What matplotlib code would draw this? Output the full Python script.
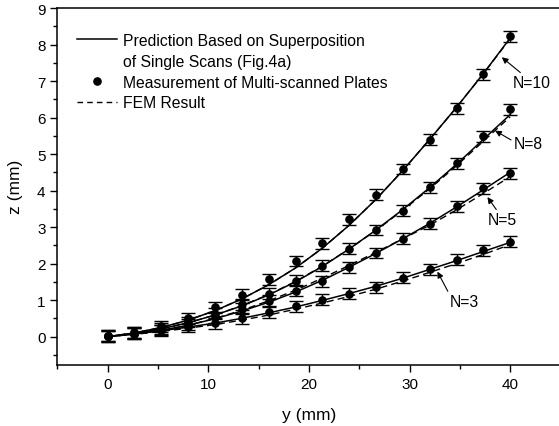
import matplotlib
matplotlib.use("Agg")
import matplotlib.pyplot as plt
from matplotlib.ticker import MultipleLocator
from matplotlib.lines import Line2D

plt.rcParams['font.family'] = ['Liberation Sans', 'DejaVu Sans']

# positions along the plate (mm)
y_pos = [0, 2.67, 5.33, 8.0, 10.67, 13.33, 16.0, 18.67, 21.33, 24.0, 26.67, 29.33, 32.0, 34.67, 37.33, 40.0]

# measurements (mm)
meas_n10 = [0.02, 0.12, 0.28, 0.50, 0.80, 1.14, 1.57, 2.07, 2.56, 3.21, 3.88, 4.59, 5.39, 6.25, 7.19, 8.23]
meas_n8 = [0.02, 0.10, 0.22, 0.40, 0.62, 0.88, 1.18, 1.53, 1.94, 2.40, 2.92, 3.45, 4.09, 4.75, 5.49, 6.23]
meas_n5 = [0.01, 0.08, 0.18, 0.33, 0.53, 0.76, 0.98, 1.26, 1.52, 1.90, 2.29, 2.68, 3.09, 3.57, 4.06, 4.47]
meas_n3 = [0.01, 0.08, 0.17, 0.27, 0.37, 0.50, 0.67, 0.83, 1.01, 1.17, 1.35, 1.61, 1.85, 2.10, 2.36, 2.60]
meas_err = 0.15

# prediction based on superposition (mm)
pred_n10 = [0.00, 0.10, 0.25, 0.45, 0.71, 1.03, 1.42, 1.88, 2.42, 3.05, 3.76, 4.55, 5.40, 6.28, 7.20, 8.18]
pred_n8 = [0.00, 0.09, 0.21, 0.38, 0.59, 0.84, 1.14, 1.50, 1.92, 2.40, 2.92, 3.48, 4.08, 4.72, 5.40, 6.08]
pred_n5 = [0.00, 0.07, 0.17, 0.31, 0.49, 0.70, 0.94, 1.22, 1.54, 1.90, 2.28, 2.68, 3.10, 3.55, 4.02, 4.50]
pred_n3 = [0.00, 0.07, 0.16, 0.26, 0.37, 0.50, 0.65, 0.81, 0.99, 1.18, 1.38, 1.60, 1.84, 2.08, 2.33, 2.58]

# FEM results (mm)
fem_n10 = [0.00, 0.10, 0.25, 0.45, 0.71, 1.03, 1.42, 1.88, 2.42, 3.05, 3.76, 4.55, 5.40, 6.28, 7.20, 8.16]
fem_n8 = [0.00, 0.09, 0.21, 0.38, 0.59, 0.85, 1.15, 1.51, 1.93, 2.40, 2.91, 3.46, 4.05, 4.68, 5.35, 6.02]
fem_n5 = [0.00, 0.07, 0.17, 0.31, 0.50, 0.72, 0.98, 1.27, 1.60, 1.95, 2.31, 2.68, 3.05, 3.47, 3.92, 4.38]
fem_n3 = [0.00, 0.06, 0.14, 0.23, 0.33, 0.45, 0.59, 0.75, 0.92, 1.10, 1.30, 1.52, 1.76, 2.00, 2.25, 2.52]

labels = ["N=10", "N=8", "N=5", "N=3"]
# annotation arrow tips and text anchors (data coordinates)
tips = [(39.17, 7.65), (38.5, 5.64), (37.74, 3.82), (32.77, 1.78)]
texts = [(42.1, 6.95), (41.8, 5.30), (39.25, 3.20), (35.4, 0.96)]
rel = [(0.3, 1.0), (0.0, 0.6), (0.35, 1.0), (0.0, 1.0)]

fig = plt.figure(figsize=(5.59, 4.27), dpi=100)
ax = fig.add_axes([57.3 / 559, 61.3 / 427, 503.2 / 559, 356.7 / 427])

for fem in (fem_n10, fem_n8, fem_n5, fem_n3):
    ax.plot(y_pos, fem, color='black', lw=1.0, dashes=(5, 3))
for pred in (pred_n10, pred_n8, pred_n5, pred_n3):
    ax.plot(y_pos, pred, color='black', lw=1.1)
for meas in (meas_n10, meas_n8, meas_n5, meas_n3):
    ax.errorbar(y_pos, meas, yerr=meas_err, fmt='o', color='black', ms=5.2,
                capsize=5, elinewidth=1.0, capthick=1.0)

for lab, tip, tx, rp in zip(labels, tips, texts, rel):
    ax.annotate(lab, xy=tip, xytext=tx, ha='center', va='center', fontsize=11.3,
                arrowprops=dict(arrowstyle='-|>', color='black', lw=0.8,
                                mutation_scale=9, shrinkA=0, shrinkB=0,
                                relpos=rp))

ax.set_xlim(-5, 45)
ax.set_ylim(-0.77, 9)
ax.xaxis.set_major_locator(MultipleLocator(10))
ax.xaxis.set_minor_locator(MultipleLocator(5))
ax.yaxis.set_major_locator(MultipleLocator(1))
ax.yaxis.set_minor_locator(MultipleLocator(0.5))
ax.tick_params(which='major', direction='out', length=5, width=1, labelsize=11)
ax.tick_params(which='minor', direction='out', length=3, width=1)
ax.spines['right'].set_visible(False)
for s in ('left', 'bottom', 'top'):
    ax.spines[s].set_linewidth(1.1)

ax.set_xlabel('y (mm)', fontsize=12.5, labelpad=12)
ax.set_ylabel('z (mm)', fontsize=12.5, labelpad=10)

handles = [
    Line2D([], [], color='black', lw=1.1),
    Line2D([], [], color='none'),
    Line2D([], [], color='black', marker='o', ls='none', ms=5.2),
    Line2D([], [], color='black', lw=1.0, dashes=(4, 3)),
]
leg_labels = ["Prediction Based on Superposition", "of Single Scans (Fig.4a)",
              "Measurement of Multi-scanned Plates", "FEM Result"]
ax.legend(handles, leg_labels, loc='upper left', bbox_to_anchor=(0.039, 0.93),
          frameon=False, fontsize=11.3, handlelength=2.55, handletextpad=0.38,
          labelspacing=0.37, borderaxespad=0, borderpad=0)

fig.savefig('out.png', dpi=100)
